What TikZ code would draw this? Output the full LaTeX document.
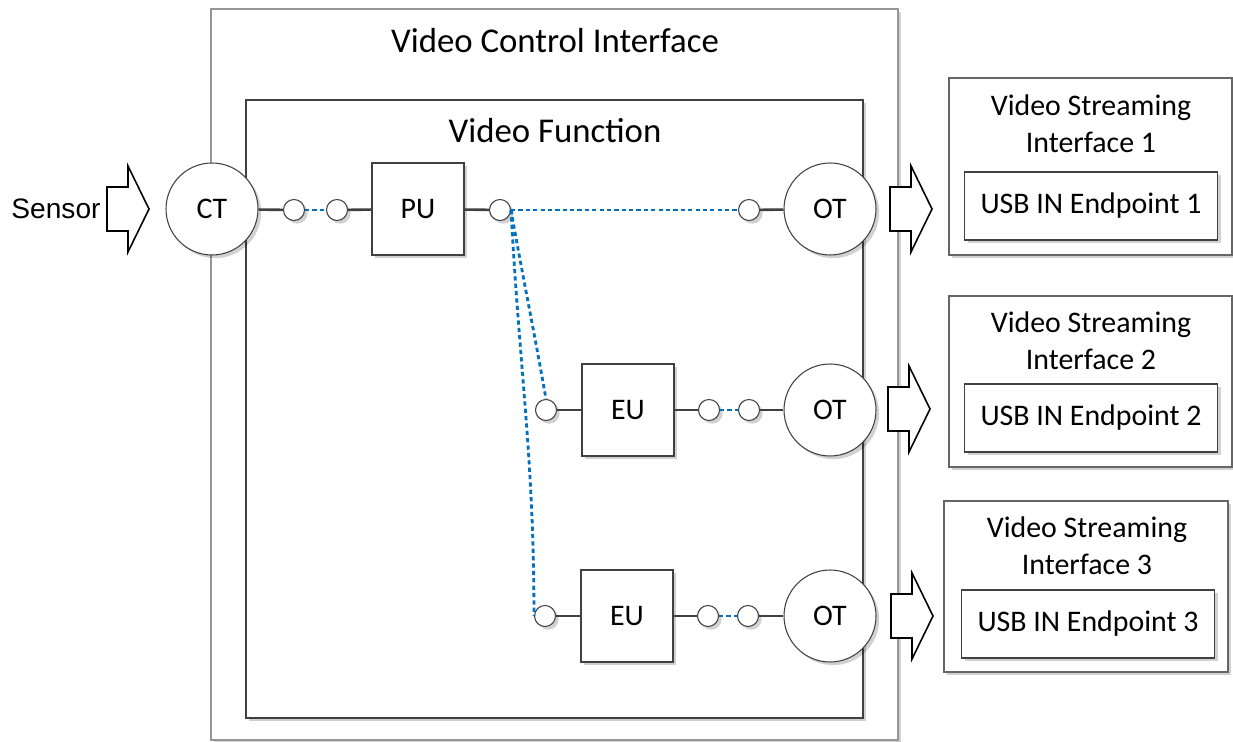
\documentclass[tikz,border=0pt]{standalone}
\usepackage{fontspec}
\setmainfont{Carlito}
\newfontfamily\sensorfont{Liberation Sans}
\usetikzlibrary{shadows}
\definecolor{linkblue}{RGB}{0,112,192}
\definecolor{edgegray}{RGB}{64,64,64}
\definecolor{framegray}{RGB}{150,150,150}
\tikzset{
  softshadow/.style={drop shadow={shadow xshift=1.8pt,shadow yshift=-1.8pt,opacity=0.18,fill=black}},
  term/.style={draw=edgegray, circle, minimum size=1.84cm, inner sep=0pt, fill=white, line width=0.6pt, softshadow, font=\fontsize{17}{21}\selectfont},
  unit/.style={draw=edgegray, minimum size=1.84cm, inner sep=0pt, fill=white, line width=0.6pt, softshadow, font=\fontsize{17}{21}\selectfont},
  port/.style={draw=edgegray, circle, minimum size=0.42cm, inner sep=0pt, fill=white, line width=0.6pt, softshadow},
  wire/.style={draw=edgegray, line width=1.5pt},
  link/.style={draw=linkblue, line width=1.6pt, dash pattern=on 2.4pt off 1.8pt},
  title/.style={font=\fontsize{19.8}{24}\selectfont},
  body/.style={font=\fontsize{17}{21}\selectfont, align=center},
  epbox/.style={draw=edgegray, minimum width=5.06cm, minimum height=1.36cm, fill=white, line width=0.6pt, softshadow, font=\fontsize{17}{21}\selectfont},
  fatarrow/.pic={\draw[line width=0.9pt, fill=white] (0,-22) -- (21,-22) -- (21,-43) -- (42,0) -- (21,43) -- (21,22) -- (0,22) -- cycle;}
}
\begin{document}
\begin{tikzpicture}[x=0.02cm, y=-0.02cm]
	\useasboundingbox (0,0) rectangle (1233,742);
	% interfaces
	\draw[draw=framegray, line width=0.6pt, fill=white, softshadow] (211,9) rectangle (898,740);
	\node[title] (vci) at (555,41) {Video Control Interface};
	\draw[draw=edgegray, line width=0.6pt, fill=white, softshadow] (246,100) rectangle (863,718);
	\node[title] (vf) at (555,131) {Video Function};
	\draw[draw=edgegray!80, line width=0.6pt, fill=white, softshadow] (949,78) rectangle (1232,255);
	\node[body] (vs1) at (1091,124) {Video Streaming\\Interface 1};
	\node[epbox] (ep1) at (1091,206) {USB IN Endpoint 1};
	\draw[draw=edgegray!80, line width=0.6pt, fill=white, softshadow] (949,296) rectangle (1232,467);
	\node[body] (vs2) at (1091,341) {Video Streaming\\Interface 2};
	\node[epbox] (ep2) at (1091,418) {USB IN Endpoint 2};
	\draw[draw=edgegray!80, line width=0.6pt, fill=white, softshadow] (944,501) rectangle (1228,672);
	\node[body] (vs3) at (1087,546) {Video Streaming\\Interface 3};
	\node[epbox] (ep3) at (1088,624) {USB IN Endpoint 3};
	% sensor input and stream outputs
	\node[font=\sensorfont\fontsize{16}{19}\selectfont] (sensor) at (56,209) {Sensor};
	\pic at (107,209) {fatarrow};
	\pic at (890,209) {fatarrow};
	\pic at (888,409) {fatarrow};
	\pic at (891,616) {fatarrow};
	% terminals and units
	\node[term] (ct) at (212,209) {CT};
	\node[unit] (pu) at (418,209) {PU};
	\node[term] (ot1) at (830,209) {OT};
	\node[unit] (eu1) at (628,410) {EU};
	\node[term] (ot2) at (830,410) {OT};
	\node[unit] (eu2) at (627,616) {EU};
	\node[term] (ot3) at (830,616) {OT};
	% pins
	\node[port] (ctout) at (294,210) {};
	\node[port] (puin) at (337,210) {};
	\node[port] (puout) at (500,210) {};
	\node[port] (ot1in) at (749,210) {};
	\node[port] (eu1in) at (546,410) {};
	\node[port] (eu1out) at (709,410) {};
	\node[port] (ot2in) at (749,410) {};
	\node[port] (eu2in) at (545,616) {};
	\node[port] (eu2out) at (708,616) {};
	\node[port] (ot3in) at (748,616) {};
	% wires
	\draw[wire] (ct) -- (ctout);
	\draw[wire] (puin) -- (pu);
	\draw[wire] (pu) -- (puout);
	\draw[wire] (ot1in) -- (ot1);
	\draw[wire] (eu1in) -- (eu1);
	\draw[wire] (eu1) -- (eu1out);
	\draw[wire] (ot2in) -- (ot2);
	\draw[wire] (eu2in) -- (eu2);
	\draw[wire] (eu2) -- (eu2out);
	\draw[wire] (ot3in) -- (ot3);
	% links
	\draw[link] (ctout) -- (puin);
	\draw[link] (puout) -- (ot1in);
	\draw[link] (puout.east) to[out=-80, in=100] (eu1in.north);
	\draw[link] (puout.east) to[out=-87, in=90] (eu2in.west);
	\draw[link] (eu1out) -- (ot2in);
	\draw[link] (eu2out) -- (ot3in);
\end{tikzpicture}
\end{document}
